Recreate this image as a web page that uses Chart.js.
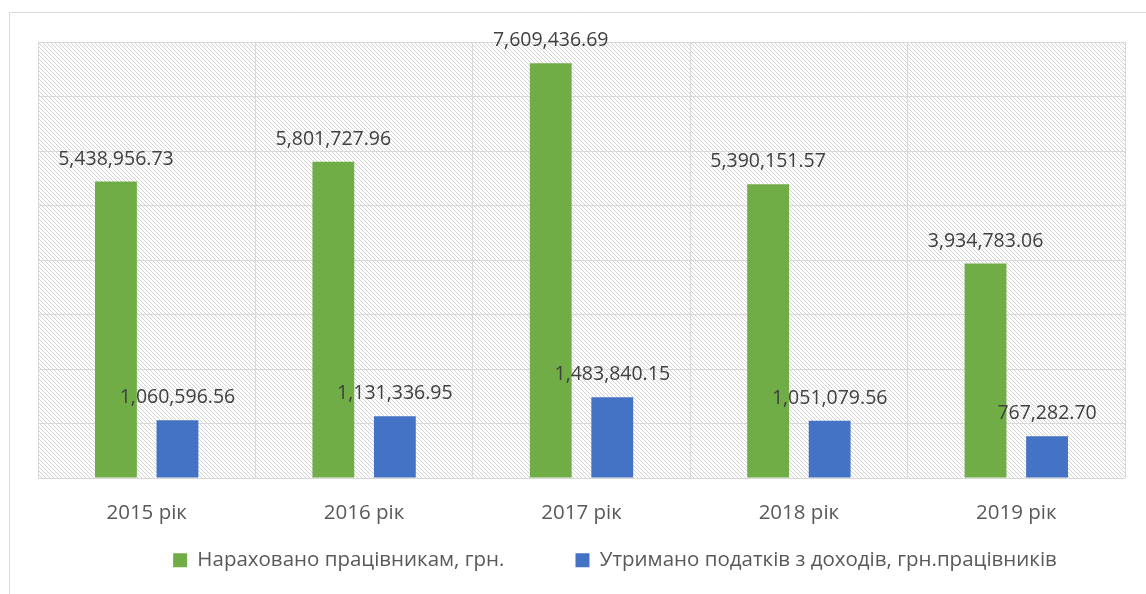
<!DOCTYPE html>
<html>
<head>
<meta charset="utf-8">
<script src="https://cdn.jsdelivr.net/npm/chart.js@4.4.1/dist/chart.umd.min.js"></script>
<style>
  html, body { margin: 0; padding: 0; background: #ffffff; }
  #wrap { width: 1146px; height: 594px; position: relative; }
</style>
</head>
<body>
<div id="wrap"><canvas id="c" width="1146" height="594"></canvas></div>
<script>
const categories = ["2015 рік", "2016 рік", "2017 рік", "2018 рік", "2019 рік"];
const seriesNames = ["Нараховано працівникам, грн.", "Утримано податків з доходів, грн.працівників"];
const accrued = [5438956.73, 5801727.96, 7609436.69, 5390151.57, 3934783.06];
const withheld = [1060596.56, 1131336.95, 1483840.15, 1051079.56, 767282.70];
const yMin = 0;
const yMax = 8000000;
const yStep = 1000000;

const FONT = "'Open Sans', 'Noto Sans', sans-serif";

function makePattern() {
  const t = document.createElement('canvas');
  t.width = 4; t.height = 4;
  const g = t.getContext('2d');
  g.fillStyle = '#ffffff';
  g.fillRect(0, 0, 4, 4);
  g.fillStyle = '#d2d2d2';
  for (let i = 0; i < 4; i++) g.fillRect(i, i, 1, 1);
  return t;
}

const fmt = v => v.toLocaleString('en-US', {minimumFractionDigits: 2, maximumFractionDigits: 2});

const bgPlugin = {
  id: 'bgPlugin',
  beforeDraw(chart) {
    const {ctx, chartArea: a} = chart;
    ctx.save();
    ctx.fillStyle = '#ffffff';
    ctx.fillRect(0, 0, chart.width, chart.height);
    ctx.strokeStyle = '#d9d9d9';
    ctx.lineWidth = 1;
    ctx.beginPath();
    ctx.moveTo(9.5, chart.height + 5);
    ctx.lineTo(9.5, 12.5);
    ctx.lineTo(chart.width + 5, 12.5);
    ctx.stroke();
    ctx.fillStyle = ctx.createPattern(makePattern(), 'repeat');
    ctx.fillRect(a.left, a.top, a.right - a.left, a.bottom - a.top);
    ctx.restore();
  }
};

const labelPlugin = {
  id: 'labelPlugin',
  afterDatasetsDraw(chart) {
    const {ctx} = chart;
    ctx.save();
    ctx.font = "19.5px " + FONT;
    ctx.fillStyle = '#404040';
    ctx.textAlign = 'center';
    ctx.textBaseline = 'alphabetic';
    chart.data.datasets.forEach((ds, di) => {
      const meta = chart.getDatasetMeta(di);
      meta.data.forEach((el, i) => {
        ctx.fillText(fmt(ds.data[i]), el.x, el.y - 17);
      });
    });
    ctx.restore();
  }
};

const legendShift = {
  id: 'legendShift',
  afterLayout(chart) {
    const l = chart.legend;
    if (!l) return;
    const dx = 615 - (l.left + l.right) / 2;
    l.left += dx; l.right += dx;
    l.top = 479; l.bottom = chart.height;
  }
};

new Chart(document.getElementById('c'), {
  type: 'bar',
  data: {
    labels: categories,
    datasets: [
      { label: seriesNames[0], data: accrued, backgroundColor: '#70ad47', borderWidth: 0,
        barPercentage: 0.68, categoryPercentage: 0.566 },
      { label: seriesNames[1], data: withheld, backgroundColor: '#4472c4', borderWidth: 0,
        barPercentage: 0.68, categoryPercentage: 0.566 }
    ]
  },
  options: {
    responsive: false,
    animation: false,
    devicePixelRatio: 1,
    layout: { padding: { left: 38, right: 21, top: 42, bottom: 6 } },
    scales: {
      x: {
        grid: { color: '#d9d9d9', lineWidth: 1, drawTicks: false, offset: true },
        border: { display: false },
        ticks: { color: '#595959', font: { family: FONT, size: 20.5 }, padding: 23 },
        afterFit(scale) { scale.height = 50; }
      },
      y: {
        min: yMin, max: yMax,
        grid: { color: '#d9d9d9', lineWidth: 1, drawTicks: false },
        border: { display: false },
        ticks: { display: false, stepSize: yStep },
        afterFit(scale) { scale.width = 0; }
      }
    },
    plugins: {
      legend: {
        position: 'bottom',
        maxHeight: 60,
        labels: {
          color: '#595959',
          font: { family: FONT, size: 20.5 },
          boxWidth: 14, boxHeight: 14,
          padding: 71
        }
      },
      tooltip: { enabled: false }
    }
  },
  plugins: [bgPlugin, labelPlugin, legendShift]
});
</script>
</body>
</html>
